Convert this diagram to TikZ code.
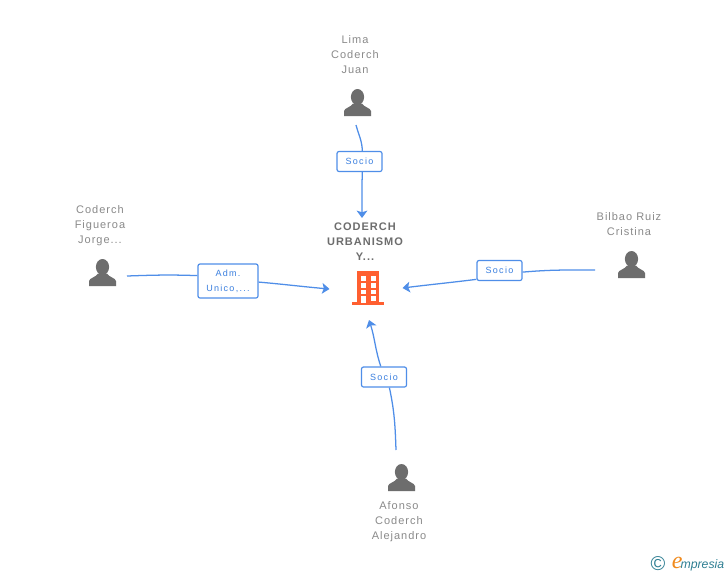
\documentclass[tikz,border=0pt]{standalone}
\usepackage{fontspec}
\setmainfont{Liberation Sans}
\newfontfamily\namefont[LetterSpace=9]{Liberation Sans}
\newfontfamily\tagfont[LetterSpace=14]{Liberation Sans}
\newfontfamily\logofont{Liberation Serif}
\usetikzlibrary{arrows.meta, positioning}
\definecolor{linkblue}{HTML}{4F8EE8}
\definecolor{tagblue}{HTML}{3A7FDF}
\definecolor{persongray}{HTML}{6D6D6D}
\definecolor{namegray}{HTML}{8A8A8A}
\definecolor{buildorange}{HTML}{FF5F30}
\definecolor{logoteal}{HTML}{2F7F93}
\definecolor{logoorange}{HTML}{F08A1D}

\begin{document}
\begin{tikzpicture}[x=0.75pt, y=0.75pt, node distance = 3pt]
        \tikzset{person/.style={
                minimum size = 20.25pt,
                inner sep = 0,
                path picture = {
                        \begin{scope}[shift={(path picture bounding box.center)}]
                                \fill[persongray] (0,5.5) ellipse (6.6 and 8);
                                \fill[persongray] (-13.5,-13.5) -- (-13.5,-8.5)
                                        .. controls (-13,-5.5) and (-7,-5) .. (-4.5,-1)
                                        -- (4.5,-1)
                                        .. controls (7,-5) and (13,-5.5) .. (13.5,-8.5)
                                        -- (13.5,-13.5) -- cycle;
                        \end{scope}
                }
        }}
        \tikzset{building/.style={
                minimum width = 24pt,
                minimum height = 25.5pt,
                inner sep = 0,
                path picture = {
                        \begin{scope}[shift={(path picture bounding box.center)}]
                                \fill[buildorange] (-11,17) rectangle (11,-16);
                                \fill[buildorange] (-16,-14) rectangle (16,-17);
                                \foreach \rowy in {12,5,-1.5} {
                                        \fill[white] (-7.5,\rowy) rectangle ++(5,-4.5);
                                        \fill[white] (3,\rowy) rectangle ++(4.5,-4.5);
                                }
                                \fill[white] (-7.5,-8) rectangle ++(5,-6.5);
                                \fill[white] (3,-8) rectangle ++(4.5,-4.5);
                        \end{scope}
                }
        }}
        \tikzset{namelabel/.style={
                align=center,
                inner sep = 0,
                text = namegray,
                font = \namefont\fontsize{8.25pt}{11.25pt}\selectfont
        }}
        \tikzset{companylabel/.style={
                align=center,
                inner sep = 0,
                text = persongray,
                font = \namefont\bfseries\fontsize{8.25pt}{11.25pt}\selectfont
        }}
        \tikzset{taglabel/.style={draw = linkblue,
                align=center,
                line width = 0.9pt,
                fill = white,
                text = tagblue,
                inner sep = 0,
                rounded corners = 1.5pt,
                minimum height = 15pt,
                minimum width = 33.75pt,
                font = \tagfont\fontsize{6.75pt}{11.25pt}\selectfont
        }}
        \tikzset{link/.style={draw = linkblue, line width = 0.95pt}}
        \tikzset{connector/.style={link, -{Stealth[length=5.5pt, width=8pt, inset=1.2pt]}}}

        \useasboundingbox (0,0) rectangle (728,-575);
        \fill[white] (0,0) rectangle (728,-575);

        \node[building] (company) at (368,-288) {};
        \node[companylabel] (companyname) at (365,-242) {CODERCH\\URBANISMO\\Y...};

        \node[person] (lima) at (357.5,-102.5) {};
        \node[namelabel, above=11pt of lima, xshift=-1.9pt] (limaname) {Lima\\Coderch\\Juan};
        \node[person] (figueroa) at (102.5,-272.5) {};
        \node[namelabel, above=9.5pt of figueroa, xshift=-1.9pt] (figueroaname) {Coderch\\Figueroa\\Jorge...};
        \node[person] (bilbao) at (631.5,-264.5) {};
        \node[namelabel, above=11pt of bilbao, xshift=-1.9pt] (bilbaoname) {Bilbao Ruiz\\Cristina};
        \node[person] (afonso) at (401.5,-477.5) {};
        \node[namelabel, below=7.2pt of afonso, xshift=-1.9pt] (afonsoname) {Afonso\\Coderch\\Alejandro};

        \node[taglabel] (sociolima) at (359.5,-161.5) {Socio};
        \node[taglabel, minimum width = 45pt, minimum height = 25.5pt] (admfigueroa) at (228,-281) {Adm.\\Unico,...};
        \node[taglabel] (sociobilbao) at (499.5,-270.5) {Socio};
        \node[taglabel] (socioafonso) at (384,-377) {Socio};

        \coordinate (limaout) at (356,-125);
        \coordinate (limain) at (362,-218);
        \coordinate (figueroaout) at (127,-276);
        \coordinate (figueroain) at (329.5,-289);
        \coordinate (bilbaoout) at (595,-270);
        \coordinate (bilbaoin) at (402.5,-288);
        \coordinate (afonsoout) at (396,-450);
        \coordinate (afonsoin) at (369,-320);

        \draw[link] (limaout) to[out=-75, in=92] (sociolima.75);
        \draw[connector] (sociolima.-75) to[out=-92, in=90] (limain);
        \draw[link] (figueroaout) to[out=2, in=178] (admfigueroa.170);
        \draw[connector] (admfigueroa.-2) to[out=-5, in=175] (figueroain);
        \draw[link] (bilbaoout) to[out=180, in=5] (sociobilbao.-4);
        \draw[connector] (sociobilbao.201) to[out=187, in=7] (bilbaoin);
        \draw[link] (afonsoout) to[out=92, in=-78] (socioafonso.-63);
        \draw[connector] (socioafonso.107) to[out=108, in=-72] (afonsoin);

        \node[text=logoteal, inner sep=0, font=\fontsize{15pt}{15pt}\selectfont] (logomark) at (658,-564) {©};
        \node[right=4.5pt of logomark, inner sep=0, text=logoteal, font=\itshape\fontsize{9.2pt}{11pt}\selectfont] (logoname) {\textcolor{logoorange}{\logofont\itshape\fontsize{18pt}{18pt}\selectfont e}\kern-1.5pt mpresia};
\end{tikzpicture}
\end{document}
